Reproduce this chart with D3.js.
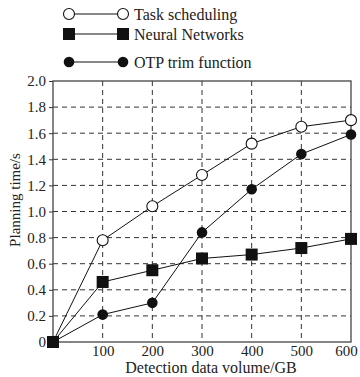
<!DOCTYPE html>
<html>
<head>
<meta charset="utf-8">
<script src="https://cdn.jsdelivr.net/npm/d3@7"></script>
<style>
	body { margin: 0; background: #fff; }
	svg { display: block; font-family: 'Liberation Serif', 'Times New Roman', serif; }
</style>
</head>
<body>
<script>
// chart data
var volumes = [0, 100, 200, 300, 400, 500, 600];
var taskScheduling = [0, 0.78, 1.04, 1.28, 1.52, 1.65, 1.70];
var neuralNetworks = [0, 0.46, 0.55, 0.64, 0.67, 0.72, 0.79];
var otpTrim = [0, 0.21, 0.30, 0.84, 1.17, 1.44, 1.59];
var xTicks = [100, 200, 300, 400, 500, 600];
var yTicks = [0, 0.2, 0.4, 0.6, 0.8, 1.0, 1.2, 1.4, 1.6, 1.8, 2.0];

(function () {
	var width = 360, height = 377;
	var plotLeft = 53, plotRight = 351, plotTop = 81, plotBottom = 342;

	var svg = d3.select('body').append('svg')
		.attr('width', width)
		.attr('height', height);

	var x = d3.scaleLinear().domain([0, 600]).range([plotLeft, plotRight]);
	var y = d3.scaleLinear().domain([0, 2.0]).range([plotBottom, plotTop]);

	// dashed grid
	svg.append('g').selectAll('line').data(xTicks.slice(0, -1)).enter().append('line')
		.attr('x1', function (d) { return x(d); })
		.attr('x2', function (d) { return x(d); })
		.attr('y1', plotTop).attr('y2', plotBottom)
		.attr('stroke', '#333').attr('stroke-width', 1).attr('stroke-dasharray', '5,4');
	svg.append('g').selectAll('line').data(yTicks.slice(1, -1)).enter().append('line')
		.attr('x1', plotLeft).attr('x2', plotRight)
		.attr('y1', function (d) { return y(d); })
		.attr('y2', function (d) { return y(d); })
		.attr('stroke', '#333').attr('stroke-width', 1).attr('stroke-dasharray', '5,4');

	// frame
	svg.append('rect')
		.attr('x', plotLeft).attr('y', plotTop)
		.attr('width', plotRight - plotLeft).attr('height', plotBottom - plotTop)
		.attr('fill', 'none').attr('stroke', '#444').attr('stroke-width', 1.3);

	// axes
	var xAxis = d3.axisBottom(x).tickValues(xTicks).tickSize(0).tickPadding(3)
		.tickFormat(d3.format('d'));
	var xAxisEl = svg.append('g')
		.attr('transform', 'translate(0,' + plotBottom + ')')
		.call(xAxis);
	xAxisEl.select('.domain').remove();
	xAxisEl.selectAll('text').attr('font-size', 15).attr('fill', '#222')
		.attr('font-family', 'Liberation Serif, serif')
		.attr('dx', function (d) { return d === 600 ? '-5' : '0'; });

	var yAxis = d3.axisLeft(y).tickValues(yTicks).tickSize(4).tickPadding(3)
		.tickFormat(function (d) { return d === 0 ? '0' : d3.format('.1f')(d); });
	var yAxisEl = svg.append('g')
		.attr('transform', 'translate(' + plotLeft + ',0)')
		.call(yAxis);
	yAxisEl.select('.domain').remove();
	yAxisEl.selectAll('line').attr('stroke', '#333');
	yAxisEl.selectAll('text').attr('font-size', 15).attr('fill', '#222')
		.attr('font-family', 'Liberation Serif, serif');

	// axis titles
	svg.append('text')
		.attr('x', 211).attr('y', 373)
		.attr('text-anchor', 'middle').attr('font-size', 16).attr('fill', '#222')
		.text('Detection data volume/GB');
	svg.append('text')
		.attr('transform', 'translate(20,200) rotate(-90)')
		.attr('text-anchor', 'middle').attr('font-size', 15).attr('fill', '#222')
		.text('Planning time/s');

	// series
	var series = [
		{ name: 'Task scheduling', values: taskScheduling, marker: 'open' },
		{ name: 'OTP trim function', values: otpTrim, marker: 'dot' },
		{ name: 'Neural Networks', values: neuralNetworks, marker: 'square' }
	];

	var line = d3.line()
		.x(function (d, i) { return x(volumes[i]); })
		.y(function (d) { return y(d); });

	var drawMarker = function (g, type, cx, cy) {
		if (type === 'square') {
			g.append('rect').attr('x', cx - 6).attr('y', cy - 6)
				.attr('width', 12).attr('height', 12).attr('fill', '#111');
		} else if (type === 'open') {
			g.append('circle').attr('cx', cx).attr('cy', cy).attr('r', 5.5)
				.attr('fill', '#fff').attr('stroke', '#111').attr('stroke-width', 1.1);
		} else {
			g.append('circle').attr('cx', cx).attr('cy', cy).attr('r', 5.3)
				.attr('fill', '#111');
		}
	};

	series.forEach(function (s) {
		svg.append('path').datum(s.values)
			.attr('d', line)
			.attr('fill', 'none').attr('stroke', '#111').attr('stroke-width', 1);
	});
	series.forEach(function (s) {
		var g = svg.append('g');
		s.values.forEach(function (v, i) {
			drawMarker(g, s.marker, x(volumes[i]), y(v));
		});
	});

	// legend
	var legendRows = [
		{ name: 'Task scheduling', marker: 'open', y: 14 },
		{ name: 'Neural Networks', marker: 'square', y: 34 },
		{ name: 'OTP trim function', marker: 'dot', y: 62 }
	];
	legendRows.forEach(function (r) {
		var g = svg.append('g');
		g.append('line').attr('x1', 69).attr('x2', 123).attr('y1', r.y).attr('y2', r.y)
			.attr('stroke', '#111').attr('stroke-width', 1);
		drawMarker(g, r.marker, 69, r.y);
		drawMarker(g, r.marker, 123, r.y);
		g.append('text').attr('x', 134).attr('y', r.y + 5.5)
			.attr('font-size', 16).attr('fill', '#222').text(r.name);
	});
})();
</script>
</body>
</html>
